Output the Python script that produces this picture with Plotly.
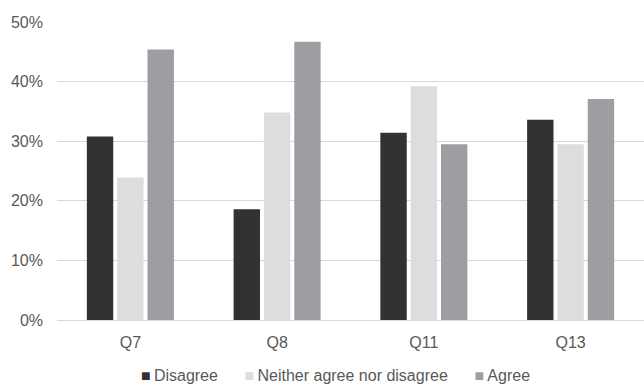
import plotly.graph_objects as go

questions = ["Q7", "Q8", "Q11", "Q13"]
disagree = [0.308, 0.186, 0.314, 0.336]
neither = [0.239, 0.348, 0.392, 0.295]
agree = [0.454, 0.467, 0.295, 0.371]

series = [
    ("Disagree", disagree, "#333132"),
    ("Neither agree nor disagree", neither, "#DCDDDF"),
    ("Agree", agree, "#9D9EA1"),
]

FONT_FAMILY = "Liberation Sans, Arial, sans-serif"
TEXT_COLOR = "#595959"
font = dict(family=FONT_FAMILY, size=16, color=TEXT_COLOR)

fig = go.Figure()
for name, vals, color in series:
    fig.add_trace(go.Bar(
        x=questions, y=vals, name=name,
        marker=dict(color=color, line=dict(width=0)),
        showlegend=False,
    ))

# compact legend: small coloured squares sitting right next to each label
gap = "\u00a0" * 6
legend_text = gap.join(
    f"<span style='color:{color}'>■</span>\u2009{name}" for name, _, color in series
)
fig.add_annotation(
    text=legend_text, xref="paper", yref="paper",
    x=0.4736, y=-0.1846, xanchor="center", yanchor="middle",
    showarrow=False, font=font,
)

fig.update_layout(
    width=644, height=384,
    margin=dict(l=57, r=0, t=22, b=64, autoexpand=False),
    paper_bgcolor="white", plot_bgcolor="white",
    barmode="group", bargap=0.38, bargroupgap=0.13,
    font=font,
    showlegend=False,
    xaxis=dict(
        showgrid=False, showline=True, linecolor="#D9D9D9", linewidth=1,
        ticks="", tickfont=font, ticklabelstandoff=8,
    ),
    yaxis=dict(
        range=[0, 0.5], dtick=0.1, tickformat=".0%",
        showgrid=True, gridcolor="#D9D9D9", gridwidth=1,
        zeroline=False, ticks="", tickfont=font, ticklabelstandoff=13,
    ),
)

fig.write_html("out.html")
